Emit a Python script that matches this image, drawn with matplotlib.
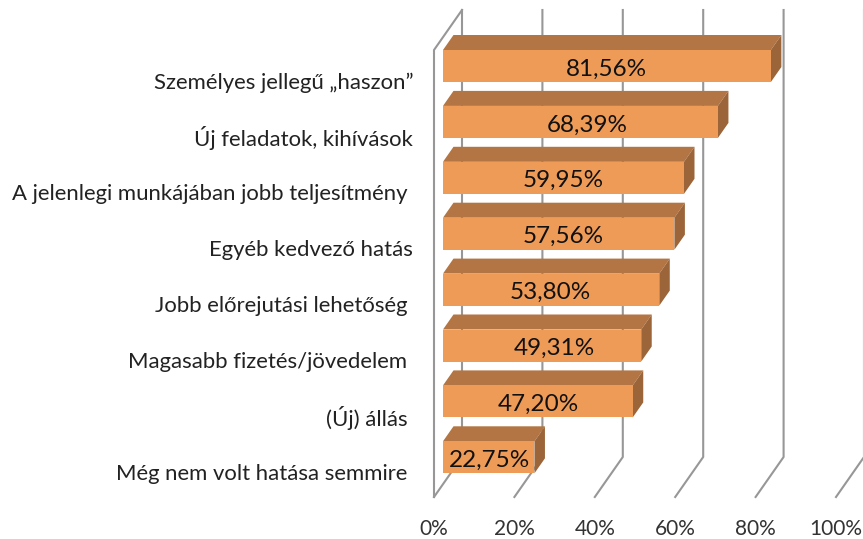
import matplotlib
matplotlib.use('Agg')
import matplotlib.pyplot as plt
from matplotlib.patches import Polygon

labels = ['Személyes jellegű „haszon”', 'Új feladatok, kihívások', 'A jelenlegi munkájában jobb teljesítmény ',
          'Egyéb kedvező hatás', 'Jobb előrejutási lehetőség ', 'Magasabb fizetés/jövedelem ',
          '(Új) állás ', 'Még nem volt hatása semmire ']
values = [81.56, 68.39, 59.95, 57.56, 53.80, 49.31, 47.20, 22.75]
ticks = [0, 20, 40, 60, 80, 100]

plt.rcParams['font.family'] = ['Lato', 'DejaVu Sans']

W, H = 863, 539
fig = plt.figure(figsize=(W / 100, H / 100), dpi=100)
# axes box is the front floor edge / back wall top, in pixels of the picture
ax = fig.add_axes([434 / W, (H - 497) / H, 429 / W, 487 / H])
ax.set_xlim(0, 429 / 4.02)
ax.set_ylim(487 / 55.9 - 56 / 55.9, -56 / 55.9)
for s in ax.spines.values():
    s.set_visible(False)

# pixel sizes of the fake 3d, turned into data units
def px(v):
    return v / 4.02

def py(v):
    return v / 55.9

grid_col = '#979797'
y_floor = ax.get_ylim()[0]
y_top = ax.get_ylim()[1]
wall_x = px(28)
wall_y = py(40)

for t in ticks:
    xs = [t, t + wall_x, t + wall_x]
    ys = [y_floor, y_floor - wall_y, y_top]
    ax.plot(xs, ys, color=grid_col, lw=1.5, clip_on=False, zorder=1)
ax.plot([0, 0, wall_x], [y_floor, y_top + wall_y, y_top], color=grid_col, lw=1.5, clip_on=False, zorder=1)

# the bars
off = px(9)
dx = px(10.5)
dy = py(15)
half = py(16)
# some value labels sit off centre in the original
nudge = [0, 7, 0, 5, -1, 12, 0, 1]
for i, v in enumerate(values):
    x0 = off
    x1 = off + v
    top = i - half
    bot = i + half
    ax.add_patch(Polygon([(x0, top), (x0 + dx, top - dy), (x1 + dx, top - dy), (x1, top)],
                         fc='#b27543', ec='none', zorder=3, clip_on=False))
    ax.add_patch(Polygon([(x1, top), (x1 + dx, top - dy), (x1 + dx, bot - dy), (x1, bot)],
                         fc='#9c6539', ec='none', zorder=3, clip_on=False))
    ax.add_patch(Polygon([(x0, top), (x1, top), (x1, bot), (x0, bot)],
                         fc='#ee9b58', ec='none', zorder=4, clip_on=False))
    ax.text(x0 + v / 2 + px(nudge[i]), i + py(3), ('%.2f%%' % v).replace('.', ','), ha='center', va='center',
            fontsize=17.5, color='#111111', zorder=5)

ax.set_xticks(ticks)
ax.set_xticklabels(['%d%%' % t for t in ticks], fontsize=15, color='#333333')
ax.set_yticks([i + py(14.5) for i in range(len(labels))])
ax.set_yticklabels(labels, fontsize=15.9, color='#222222')
ax.tick_params(axis='x', length=0, pad=16)
ax.tick_params(axis='y', length=0, pad=15)

fig.savefig('out.png', dpi=100)
